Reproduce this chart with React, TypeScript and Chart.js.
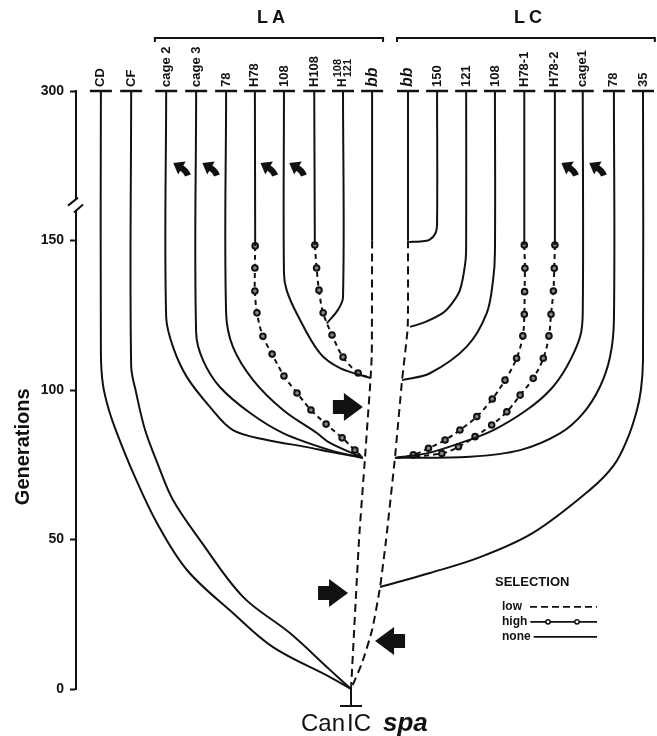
import React, { useEffect, useRef } from 'react';
import { Chart, registerables } from 'chart.js';

Chart.register(...registerables);

const FONT = '"Liberation Sans", Arial, Helvetica, sans-serif';
const INK = '#111';

// ---------- generation axis (break above 150, 300 at the top) ----------
const genTicks = [0, 50, 100, 150, 300];
const breakGen = 186;
const toAxis = (g: number) => (g <= 150 ? g : 150 + (g - 150) / 3);
const fromAxis = (v: number) => (v <= 150 ? v : 150 + (v - 150) * 3);

// ---------- lineages across the top ----------
const lineageLabels = ['CD', 'CF', 'cage 2', 'cage 3', '78', 'H78', '108', 'H108', 'H108/121', 'bb', 'bb', '150', '121', '108', 'H78-1', 'H78-2', 'cage1', '78', '35'];
const lineageSlots = [0.03, 1.05, 2.23, 3.24, 4.25, 5.22, 6.2, 7.22, 8.19, 9.17, 10.38, 11.36, 12.34, 13.31, 14.3, 15.33, 16.27, 17.32, 18.3];
const groupLabels = ['LA', 'LC'];
const groupSpans = [[1.85, 9.54], [10.01, 18.7]];
const rootSlot = 8.46;
const rootLabel = ['Can', 'IC', 'spa'];

// ---------- branches: [lineage slot, generation] ----------
const cdPts = [[0.03, 300], [0.03, 112], [0.1, 101.7], [0.3, 93.3], [0.57, 85.6], [1.12, 72.2], [1.92, 55.5], [2.93, 39.8], [4.48, 25.4], [5.83, 14], [7.75, 4], [8.46, 0]];
const cfPts = [[1.05, 300], [1.05, 108], [1.22, 99], [1.52, 86.6], [1.96, 74.9], [2.46, 63.2], [3.37, 49.8], [4.82, 30.8], [6.4, 18.7], [7.75, 6.4], [8.46, 0]];

const laBbTop = [[9.17, 300], [9.17, 150]];
const laBbLow = [[9.17, 150], [9.16, 112], [9.12, 104], [8.93, 77.3], [8.73, 50], [8.46, 0]];
const lcBbTop = [[10.38, 300], [10.38, 150]];
const lcBbLow = [[10.38, 150], [10.37, 121], [10.18, 103.3], [9.94, 77.3], [9.64, 49.8], [9.44, 34.1], [9.17, 19.7], [8.83, 8.7], [8.46, 0]];

const lc150 = [[11.36, 300], [11.36, 168], [11.31, 157.5], [11.1, 150.6], [10.8, 149.7], [10.42, 149.5]];
const lc121 = [[12.34, 300], [12.34, 148], [12.31, 142.5], [12.13, 133.4], [11.85, 128.8], [11.56, 125.8], [10.95, 122.7], [10.45, 121.1]];
const lc108 = [[13.31, 300], [13.31, 146], [13.25, 137], [13.03, 125.6], [12.36, 114.5], [11.12, 105.6], [10.18, 103.3]];

const laH121 = [[8.19, 300], [8.19, 131], [8.02, 126.8], [7.64, 122.3]];
const laH108Top = [[7.22, 300], [7.24, 148.5]];
const laH108 = [[7.24, 148.5], [7.3, 140.8], [7.38, 133.4], [7.52, 125.8], [7.82, 118.4], [8.19, 111], [8.7, 105.7], [9.12, 104]];
const la108 = [[6.2, 300], [6.2, 139], [6.29, 133.4], [6.63, 125.6], [7.41, 112.3], [8.09, 107.3], [9.12, 104]];
const laH78Top = [[5.22, 300], [5.23, 148.2]];
const laH78 = [[5.23, 148.2], [5.22, 140.8], [5.22, 133.1], [5.29, 125.8], [5.49, 118], [5.8, 112], [6.2, 104.7], [6.64, 99], [7.11, 93.3], [7.62, 88.6], [8.16, 84], [8.59, 79.9], [8.86, 77.3]];
const la78 = [[4.25, 300], [4.25, 125.8], [4.48, 114.4], [5.16, 103.3], [6.17, 93.3], [7.31, 85.6], [7.75, 82.3], [8.86, 77.3]];
const laCage3 = [[3.24, 300], [3.24, 119.1], [3.47, 110], [4.04, 101], [5.06, 92.3], [6.17, 85.6], [7.75, 79.9], [8.86, 77.3]];
const laCage2 = [[2.23, 300], [2.23, 124.4], [2.46, 114.4], [2.93, 104.3], [3.71, 94.3], [4.48, 86.6], [5.63, 83.3], [6.98, 80.9], [7.75, 79.3], [8.86, 77.3]];

const lcH78aTop = [[14.3, 300], [14.3, 148.5]];
const lcH78a = [[14.3, 148.5], [14.32, 140.7], [14.31, 132.9], [14.3, 125.3], [14.25, 118.1], [14.04, 110.6], [13.65, 103.3], [13.22, 97], [12.7, 91.1], [12.13, 86.6], [11.63, 83.3], [11.07, 80.5], [10.56, 78.3], [9.94, 77.3]];
const lcH78bTop = [[15.33, 300], [15.33, 148.5]];
const lcH78b = [[15.33, 148.5], [15.31, 140.7], [15.28, 133.1], [15.2, 125.3], [15.13, 118.1], [14.94, 110.6], [14.6, 103.9], [14.16, 98.3], [13.71, 92.7], [13.2, 88.3], [12.64, 84.4], [12.08, 81], [11.52, 78.8], [9.94, 77.3]];
const lcCage1 = [[16.27, 300], [16.27, 126], [16.18, 117.8], [15.73, 107.8], [15.17, 100], [14.38, 93.3], [13.26, 86.6], [12.13, 82.2], [11.01, 78.8], [9.94, 77.3]];
const lc78 = [[17.32, 300], [17.32, 123.4], [17.19, 111.1], [16.85, 101.1], [16.28, 92.2], [15.5, 85.5], [14.16, 79.9], [12.47, 77.7], [9.94, 77.3]];
const lc35 = [[18.3, 300], [18.3, 110], [18.23, 100], [18.07, 92.3], [17.76, 83.3], [17.32, 74.9], [16.51, 66.6], [14.59, 52.2], [12.81, 44.1], [11.12, 38.8], [9.44, 34.1]];

// selection regime of every drawn branch
const branchList = [cdPts, cfPts, laBbTop, lcBbTop, lc150, lc121, lc108, laH121, laH108Top, la108, laH78Top, la78, laCage3, laCage2, lcH78aTop, lcH78bTop, lcCage1, lc78, lc35, laBbLow, lcBbLow, laH108, laH78, lcH78a, lcH78b];
const branchSelection = ['none', 'none', 'none', 'none', 'none', 'none', 'none', 'none', 'none', 'none', 'none', 'none', 'none', 'none', 'none', 'none', 'none', 'none', 'none', 'low', 'low', 'high', 'high', 'high', 'high'];

// ---------- arrows (lineage slot, generation) ----------
const curvedArrowSlots = [2.76, 3.74, 5.7, 6.67, 15.84, 16.78];
const curvedArrowGen = 222.7;
const blockArrowSlots = [8.86, 8.36, 9.27];
const blockArrowGens = [94.3, 32.1, 16.05];
const blockArrowDirs = ['right', 'right', 'left'];

const legendTitle = 'SELECTION';
const legendItems = ['low', 'high', 'none'];

function makeDataset(pts: number[][], sel: string) {
  const n = pts.length;
  return {
    data: pts.map(([x, g]) => ({ x, y: toAxis(g) })),
    borderColor: INK,
    borderWidth: 2,
    borderDash: sel === 'low' ? [8, 5] : sel === 'high' ? [5, 4] : [],
    pointRadius: sel === 'high' ? (c: any) => (c.dataIndex === n - 1 ? 0 : 2.8) : 0,
    pointHoverRadius: 0,
    pointBackgroundColor: '#888',
    pointBorderColor: INK,
    pointBorderWidth: 2,
    tension: sel === 'low' ? 0.15 : 0.35,
    fill: false,
    clip: false,
  };
}

function strokeLine(ctx: CanvasRenderingContext2D, x1: number, y1: number, x2: number, y2: number) {
  ctx.beginPath();
  ctx.moveTo(x1, y1);
  ctx.lineTo(x2, y2);
  ctx.stroke();
}

function drawLineageLabel(ctx: CanvasRenderingContext2D, label: string, cx: number, yb: number) {
  ctx.save();
  ctx.translate(cx, yb);
  ctx.rotate(-Math.PI / 2);
  ctx.textAlign = 'left';
  ctx.textBaseline = 'middle';
  ctx.fillStyle = INK;
  if (label === 'bb') {
    ctx.font = `italic bold 16px ${FONT}`;
    ctx.fillText('bb', 0, 0);
  } else if (label.includes('/')) {
    const head = label[0];
    const [a, b] = label.slice(1).split('/');
    ctx.font = `bold 12px ${FONT}`;
    ctx.fillText(head, 0, 0);
    const w = ctx.measureText(head).width + 1;
    ctx.font = `bold 11px ${FONT}`;
    ctx.fillText(a, w, -5);
    ctx.fillText(b, w, 5);
  } else {
    ctx.font = `bold 13px ${FONT}`;
    ctx.fillText(label, 0, 0);
  }
  ctx.restore();
}

function drawCurvedArrow(ctx: CanvasRenderingContext2D, cx: number, cy: number) {
  ctx.save();
  ctx.translate(cx, cy);
  ctx.rotate((7 * Math.PI) / 6);
  ctx.beginPath();
  ctx.moveTo(10, 0);
  ctx.lineTo(0, -7.5);
  ctx.lineTo(0, 7.5);
  ctx.closePath();
  ctx.fill();
  ctx.lineWidth = 6;
  ctx.lineCap = 'butt';
  ctx.beginPath();
  ctx.moveTo(1, 0);
  ctx.quadraticCurveTo(-5, 0, -9, -3.5);
  ctx.stroke();
  ctx.restore();
}

function drawBlockArrow(ctx: CanvasRenderingContext2D, tx: number, ty: number, dir: string) {
  ctx.save();
  ctx.translate(tx, ty);
  if (dir === 'left') ctx.scale(-1, 1);
  ctx.beginPath();
  ctx.moveTo(0, 0);
  ctx.lineTo(-19, -14);
  ctx.lineTo(-19, -7);
  ctx.lineTo(-30, -7);
  ctx.lineTo(-30, 7);
  ctx.lineTo(-19, 7);
  ctx.lineTo(-19, 14);
  ctx.closePath();
  ctx.fill();
  ctx.restore();
}

const decorPlugin = {
  id: 'pedigreeDecor',
  afterDatasetsDraw(chart: any) {
    const { ctx, chartArea: ca, scales } = chart;
    const X = (s: number) => scales.x.getPixelForValue(s);
    const Y = (g: number) => scales.y.getPixelForValue(toAxis(g));
    ctx.save();
    ctx.fillStyle = INK;
    ctx.strokeStyle = INK;

    // axis break
    const by = Y(breakGen);
    const ax = ca.left;
    ctx.fillStyle = '#fff';
    ctx.fillRect(ax - 3, by - 5, 6, 11);
    ctx.fillStyle = INK;
    ctx.lineWidth = 2;
    strokeLine(ctx, ax - 8, by + 1, ax + 2, by - 7);
    strokeLine(ctx, ax - 2, by + 8, ax + 7, by);

    // lineage caps and labels
    const topY = Y(300);
    lineageSlots.forEach((s, i) => {
      const cx = X(s);
      ctx.lineWidth = 2.5;
      strokeLine(ctx, cx - 11, topY, cx + 11, topY);
      drawLineageLabel(ctx, lineageLabels[i], cx, topY - 4);
    });

    // group brackets
    groupLabels.forEach((lab, i) => {
      const x1 = X(groupSpans[i][0]);
      const x2 = X(groupSpans[i][1]);
      const yb = topY - 53;
      ctx.lineWidth = 2;
      ctx.beginPath();
      ctx.moveTo(x1, yb + 4);
      ctx.lineTo(x1, yb);
      ctx.lineTo(x2, yb);
      ctx.lineTo(x2, yb + 4);
      ctx.stroke();
      ctx.font = `bold 18px ${FONT}`;
      (ctx as any).letterSpacing = '4px';
      ctx.textAlign = 'center';
      ctx.textBaseline = 'middle';
      ctx.fillText(lab, (x1 + x2) / 2 + 4, topY - 73);
      (ctx as any).letterSpacing = '0px';
    });

    // arrows
    curvedArrowSlots.forEach((s) => drawCurvedArrow(ctx, X(s), Y(curvedArrowGen)));
    blockArrowSlots.forEach((s, i) => drawBlockArrow(ctx, X(s), Y(blockArrowGens[i]), blockArrowDirs[i]));

    // root
    const rx = X(rootSlot);
    const ry = Y(0);
    ctx.lineWidth = 2;
    strokeLine(ctx, rx, ry, rx, ry + 17);
    strokeLine(ctx, rx - 11, ry + 17, rx + 11, ry + 17);
    ctx.textBaseline = 'alphabetic';
    ctx.font = `24px ${FONT}`;
    ctx.textAlign = 'right';
    ctx.fillText(rootLabel[0], rx - 6, ry + 42);
    ctx.textAlign = 'left';
    ctx.fillText(rootLabel[1], rx - 4, ry + 42);
    ctx.font = `italic bold 26px ${FONT}`;
    ctx.fillText(rootLabel[2], rx + 32, ry + 42);

    // y title
    ctx.save();
    ctx.translate(ca.left - 53, Y(81));
    ctx.rotate(-Math.PI / 2);
    ctx.font = `bold 20px ${FONT}`;
    ctx.textAlign = 'center';
    ctx.textBaseline = 'middle';
    ctx.fillText('Generations', 0, 0);
    ctx.restore();

    // legend
    const lx = ca.left + 419;
    const ly = Y(35.5);
    ctx.textAlign = 'left';
    ctx.textBaseline = 'middle';
    ctx.font = `bold 13px ${FONT}`;
    ctx.fillText(legendTitle, lx, ly);
    legendItems.forEach((it, i) => {
      const yy = ly + 24 + i * 15;
      ctx.font = `bold 12px ${FONT}`;
      ctx.fillText(it, lx + 7, yy);
      const x0 = Math.max(lx + 35, lx + 7 + ctx.measureText(it).width + 3);
      ctx.lineWidth = 1.8;
      ctx.setLineDash(it === 'low' ? [7, 4] : []);
      strokeLine(ctx, x0, yy, lx + 102, yy);
      ctx.setLineDash([]);
      if (it === 'high') {
        [lx + 53, lx + 82].forEach((dx) => {
          ctx.beginPath();
          ctx.arc(dx, yy, 2.2, 0, Math.PI * 2);
          ctx.fillStyle = '#fff';
          ctx.fill();
          ctx.lineWidth = 1.5;
          ctx.stroke();
          ctx.fillStyle = INK;
        });
      }
    });

    ctx.restore();
  },
};

export default function App() {
  const canvasRef = useRef<HTMLCanvasElement | null>(null);

  useEffect(() => {
    const canvas = canvasRef.current;
    if (!canvas) return;
    Chart.defaults.font.family = FONT;
    Chart.defaults.color = INK;
    const chart = new Chart(canvas, {
      type: 'line',
      data: {
        datasets: branchList.map((pts, i) => makeDataset(pts, branchSelection[i])) as any,
      },
      options: {
        responsive: false,
        animation: false,
        devicePixelRatio: 1,
        events: [],
        layout: { padding: { top: 91, bottom: 47, left: 0, right: 7 } },
        plugins: { legend: { display: false }, tooltip: { enabled: false } },
        scales: {
          x: { type: 'linear', min: -0.809, max: 18.536, display: false },
          y: {
            type: 'linear',
            min: 0,
            max: 200,
            afterBuildTicks: (s: any) => {
              s.ticks = genTicks.map((g) => ({ value: toAxis(g) }));
            },
            afterFit: (s: any) => {
              s.width = 76;
            },
            ticks: {
              callback: (v: any) => String(Math.round(fromAxis(Number(v)))),
              font: { family: FONT, size: 14, weight: 'bold' },
              color: INK,
              padding: 6,
            },
            grid: { drawOnChartArea: false, drawTicks: true, tickLength: 6, tickWidth: 2, tickColor: INK },
            border: { display: true, color: INK, width: 2 },
          },
        },
      } as any,
      plugins: [decorPlugin],
    });
    return () => chart.destroy();
  }, []);

  return (
    <div style={{ position: 'absolute', left: 0, top: 0, width: 657, height: 736, background: '#fff' }}>
      <canvas ref={canvasRef} width={657} height={736} style={{ display: 'block' }} />
    </div>
  );
}
